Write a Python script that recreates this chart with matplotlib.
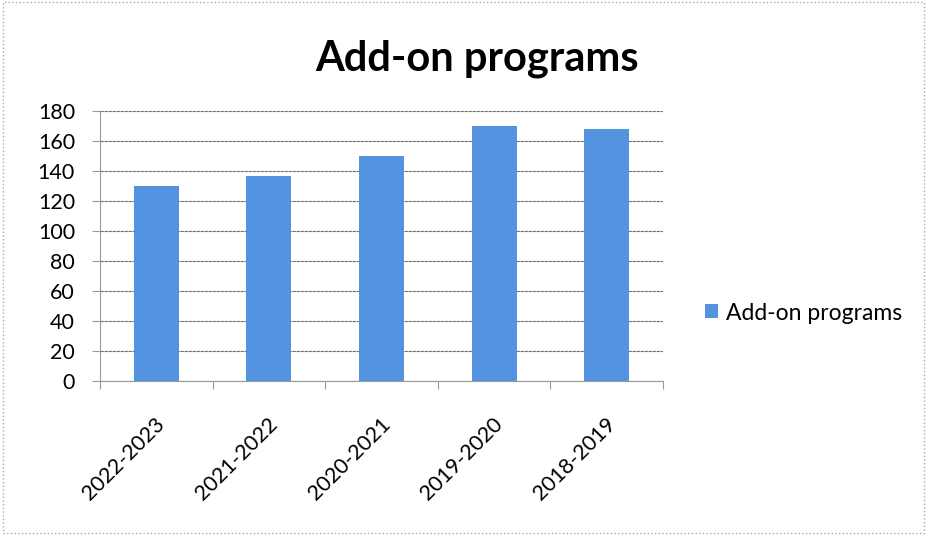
import matplotlib.pyplot as plt
import matplotlib.transforms as mtransforms
import numpy as np

years = ["2022-2023", "2021-2022", "2020-2021", "2019-2020", "2018-2019"]
programs = [130, 137, 150, 170, 168]
yticks = [0, 20, 40, 60, 80, 100, 120, 140, 160, 180]

plt.rcParams['font.family'] = ['Lato', 'DejaVu Sans']

fig = plt.figure(figsize=(9.27, 5.35), dpi=100)
# plot area: x 100..663 px, y 111..381 px
ax = fig.add_axes([100 / 927, 1 - 381 / 535, 563 / 927, 270 / 535])

x = np.arange(len(years))
ax.bar(x, programs, width=0.4, color="#5393e0", label="Add-on programs", zorder=3)

ax.set_xlim(-0.5, len(years) - 0.5)
ax.set_ylim(0, 180)
ax.set_yticks(yticks)
ax.yaxis.grid(True, color="#6e6e6e", linewidth=0.8, linestyle=(0, (3, 0.6)), zorder=0)
ax.tick_params(axis='y', labelsize=15.5, length=6, color="#999999", pad=12)

# category ticks sit on the boundaries, labels in the middle
ax.set_xticks(np.arange(len(years) + 1) - 0.5)
ax.set_xticklabels([])
ax.set_xticks(x, minor=True)
ax.set_xticklabels(years, minor=True, rotation=45, ha='right', va='center',
                   rotation_mode='anchor', fontsize=15.5)
ax.tick_params(axis='x', which='major', length=6, color="#999999")
ax.tick_params(axis='x', which='minor', length=0, pad=29)
shift = mtransforms.ScaledTranslation(4 / 72, 0, fig.dpi_scale_trans)
for lab in ax.get_xticklabels(minor=True):
    lab.set_transform(lab.get_transform() + shift)

for s in ['top', 'right']:
    ax.spines[s].set_visible(False)
ax.spines['left'].set_color("#999999")
ax.spines['bottom'].set_color("#999999")

fig.text(477 / 927, 1 - 70 / 535, "Add-on programs", ha='center', va='baseline',
         fontsize=30, fontweight='bold')

fig.legend(loc='center left', bbox_to_anchor=(705 / 927, 1 - 313 / 535), frameon=False,
           fontsize=16.5, handlelength=0.57, handleheight=0.57, handletextpad=0.35,
           borderpad=0, borderaxespad=0)

# dotted frame around the whole chart
fig.patches.append(plt.Rectangle((0.003, 0.003), 0.994, 0.994, transform=fig.transFigure,
                                 fill=False, edgecolor="#aaaaaa", linestyle=':', linewidth=1))

fig.savefig("out.png", dpi=100)
